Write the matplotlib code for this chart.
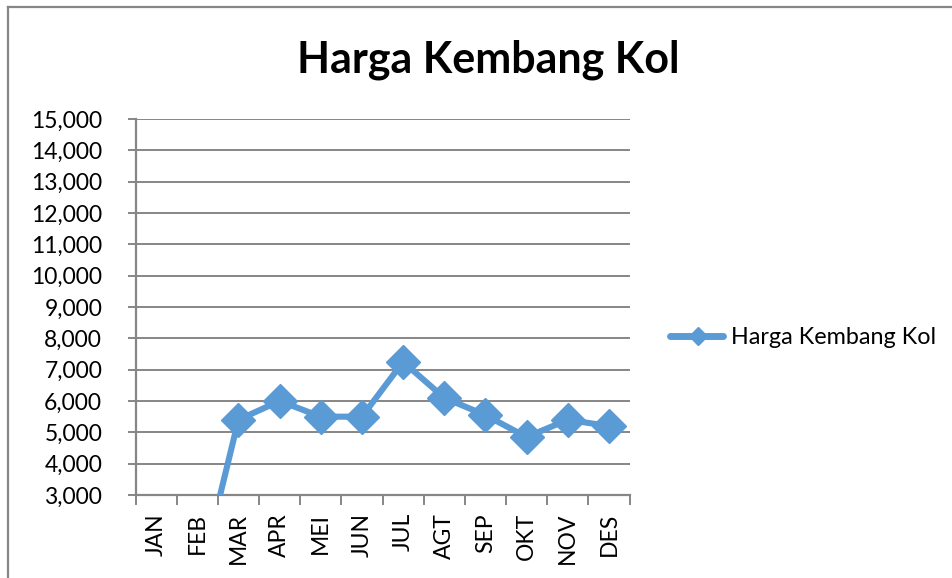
import numpy as np
import matplotlib
matplotlib.use("Agg")
import matplotlib.pyplot as plt
from matplotlib.ticker import FuncFormatter
from matplotlib.lines import Line2D

# data
months = ["JAN", "FEB", "MAR", "APR", "MEI", "JUN", "JUL", "AGT", "SEP", "OKT", "NOV", "DES"]
harga = [0, 0, 5400, 6000, 5500, 5500, 7250, 6100, 5550, 4850, 5400, 5200]
series_name = "Harga Kembang Kol"
y_ticks = list(range(3000, 15001, 1000))

blue = "#5B9BD5"
grey = "#868686"
font = ["Lato", "DejaVu Sans"]
fs = 16.5

W, H = 952, 578
fig = plt.figure(figsize=(W / 100, H / 100), dpi=100)

# chart border (Excel chart area, cut off right/bottom)
fig.add_artist(Line2D([8 / W, 8 / W], [0, 1 - 7 / H], transform=fig.transFigure, color=grey, lw=1.6))
fig.add_artist(Line2D([8 / W, 1], [1 - 7 / H, 1 - 7 / H], transform=fig.transFigure, color=grey, lw=1.6))

left, right, top, bottom = 135.5, 629.5, 119, 495
ax = fig.add_axes([left / W, 1 - bottom / H, (right - left) / W, (bottom - top) / H])

x = np.arange(len(months))
ax.plot(x, harga, color=blue, lw=4.4, marker="D", markersize=17, solid_joinstyle="miter",
        label=series_name, zorder=3)

ax.set_xlim(-0.5, len(months) - 0.5)
ax.set_ylim(3000, 15000)
ax.set_yticks(y_ticks)
ax.yaxis.set_major_formatter(FuncFormatter(lambda v, p: f"{int(v):,}"))
ax.set_xticks(np.arange(len(months) + 1) - 0.5, minor=False)
ax.set_xticklabels([])
ax.set_xticks(x, minor=True)
ax.set_xticklabels(months, minor=True, rotation=90, fontsize=fs, family=font)
ax.tick_params(axis="x", which="minor", length=0, pad=13)
ax.tick_params(axis="x", which="major", length=7, width=1.4, color=grey)
ax.tick_params(axis="y", length=6, width=1.4, color=grey, labelsize=fs, pad=18)
for lab in ax.get_yticklabels():
    lab.set_family(font)

ax.grid(axis="y", color=grey, lw=1.4)
for s in ["top", "right"]:
    ax.spines[s].set_visible(False)
for s in ["left", "bottom"]:
    ax.spines[s].set_color(grey)
    ax.spines[s].set_linewidth(1.6)

fig.text(488 / W, 1 - 60 / H, "Harga Kembang Kol", ha="center", va="center",
         fontsize=31, fontweight="bold", family=font)

# legend drawn by hand so it sits where Excel put it
fig.add_artist(Line2D([670 / W, 723 / W], [1 - 336 / H] * 2, transform=fig.transFigure,
                      color=blue, lw=5, solid_capstyle="round"))
fig.add_artist(Line2D([698 / W], [1 - 336 / H], transform=fig.transFigure,
                      color=blue, marker="D", markersize=9))
fig.text(731 / W, 1 - 338 / H, series_name, ha="left", va="center", fontsize=16.8, family=font)

fig.savefig("out.png", dpi=100)
